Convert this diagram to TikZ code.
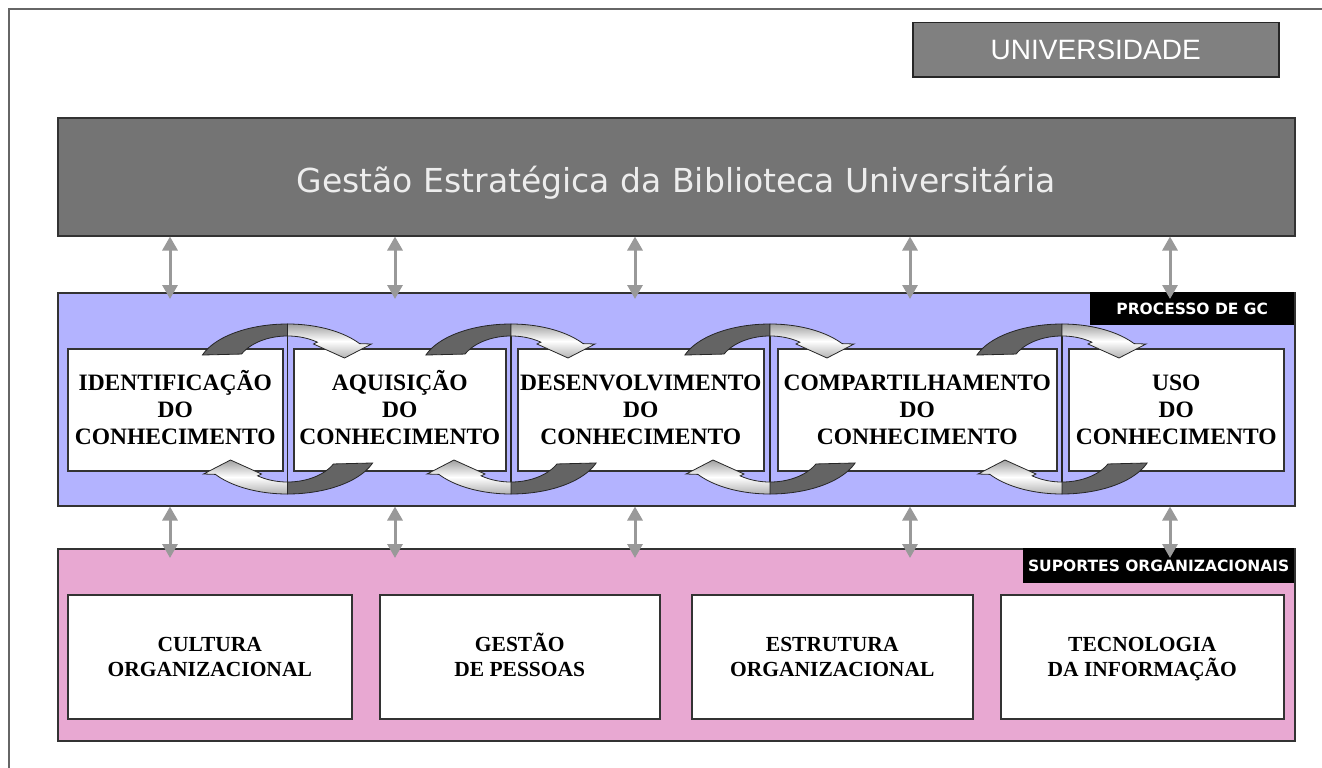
\documentclass[tikz,border=0pt]{standalone}
\usepackage{fontspec}
\setmainfont{Liberation Serif}
\newfontfamily\verdfont{DejaVu Sans}
\newfontfamily\arialfont{Liberation Sans}
\usetikzlibrary{arrows.meta}
\definecolor{gestfill}{RGB}{116,116,116}
\definecolor{unifill}{RGB}{128,128,128}
\definecolor{lav}{RGB}{179,179,255}
\definecolor{pinkfill}{RGB}{232,168,210}
\definecolor{arrgray}{RGB}{153,153,153}
\definecolor{arcdark}{RGB}{100,100,100}
\newcommand\myTop{\vphantom{ÃÇ}}
\begin{document}
\begin{tikzpicture}[x=1pt,y=-1pt,
  panel/.style={draw=black!80, line width=1.5pt, inner sep=0pt, anchor=north west},
  procbox/.style={panel, fill=white, minimum height=122pt, align=center,
    font=\fontsize{23.5}{27}\selectfont\bfseries},
  supbox/.style={panel, fill=white, minimum height=124pt, align=center,
    font=\fontsize{21.5}{25}\selectfont\bfseries},
  tagbox/.style={anchor=north west, fill=black, inner sep=0pt, text=white,
    font=\verdfont\bfseries\fontsize{15.5}{17}\selectfont},
  dblarrow/.style={draw=arrgray, line width=3pt,
    {Triangle[width=15pt,length=14pt]}-{Triangle[width=15pt,length=14pt]}},
  darkarc/.style={fill=arcdark, draw=black!85, line width=0.8pt},
  lightarc/.style={top color=gray!75, bottom color=gray!60, middle color=white,
    draw=black!85, line width=0.8pt},
  gapline/.style={draw=black!85, line width=1.2pt}
]
\useasboundingbox (0,0) rectangle (1322,768);
% frame
\draw[line width=2.5pt, black!60] (9,768) -- (9,9) -- (1322,9);

% top boxes
\node[panel, fill=unifill, draw=black!85, minimum width=366pt, minimum height=54pt,
  text=white, font=\arialfont\fontsize{28}{30}\selectfont] (univ) at (912,22) {UNIVERSIDADE};
\node[panel, fill=gestfill, minimum width=1237pt, minimum height=118pt,
  text=white!93!black, font=\verdfont\fontsize{33}{36}\selectfont] (gest) at (57,117)
  {\raisebox{-16pt}[0pt][0pt]{Gestão Estratégica da Biblioteca Universitária}};

% process panel
\node[panel, fill=lav, minimum width=1237pt, minimum height=213pt] (proc) at (57,292) {};
\node[tagbox, minimum width=204pt, minimum height=33pt] (proclab) at (1090,292) {PROCESSO DE GC};

% support panel
\node[panel, fill=pinkfill, minimum width=1237pt, minimum height=192pt] (sup) at (57,548) {};
\node[tagbox, minimum width=271pt, minimum height=35pt] (suplab) at (1023,548) {SUPORTES ORGANIZACIONAIS};

% gap lines
\foreach \cx in {287.5,511,770,1062} {
  \draw[gapline] (\cx,324) -- (\cx,494);
}

% process boxes
\node[procbox, minimum width=215pt] (p1) at (67,348) {\myTop IDENTIFICAÇÃO\\DO\\CONHECIMENTO\myTop};
\node[procbox, minimum width=212pt] (p2) at (293,348) {\myTop AQUISIÇÃO\\DO\\CONHECIMENTO\myTop};
\node[procbox, minimum width=246pt] (p3) at (517,348) {\myTop DESENVOLVIMENTO\\DO\\CONHECIMENTO\myTop};
\node[procbox, minimum width=279pt] (p4) at (777,348) {\myTop COMPARTILHAMENTO\\DO\\CONHECIMENTO\myTop};
\node[procbox, minimum width=215pt] (p5) at (1068,348) {\myTop USO\\DO\\CONHECIMENTO\myTop};

% support boxes
\node[supbox, minimum width=284pt] (s1) at (67,594) {\myTop CULTURA\\ORGANIZACIONAL\myTop};
\node[supbox, minimum width=280pt] (s2) at (379,594) {\myTop GESTÃO\\DE PESSOAS\myTop};
\node[supbox, minimum width=281pt] (s3) at (691,594) {\myTop ESTRUTURA\\ORGANIZACIONAL\myTop};
\node[supbox, minimum width=283pt] (s4) at (1000,594) {\myTop TECNOLOGIA\\DA INFORMAÇÃO\myTop};

% curved arrows
\foreach \cx in {287.5,511,770,1062} {
  \foreach \cy/\rot in {370/0,448/180} {
    \begin{scope}[shift={(\cx,\cy)}, rotate=\rot]
      \filldraw[darkarc] plot[domain=199:270, samples=30, smooth] ({90*cos(\x)},{46*sin(\x)})
        -- plot[domain=270:208, samples=30, smooth] ({52*cos(\x)},{34*sin(\x)}) -- cycle;
      \shadedraw[lightarc] plot[domain=270:325, samples=30, smooth] ({88*cos(\x)},{46*sin(\x)})
        -- (84,-26) -- (57,-12) -- (26,-26)
        -- plot[domain=305:270, samples=30, smooth] ({52*cos(\x)},{34*sin(\x)}) -- cycle;
    \end{scope}
  }
}

% vertical double arrows
\foreach \i/\xx in {1/170,2/395,3/635,4/910,5/1170} {
  \coordinate (c\i) at (\xx,0);
  \draw[dblarrow, shorten >=-7pt] (c\i |- gest.south) -- (c\i |- proc.north);
  \draw[dblarrow, shorten >=-10pt] (c\i |- proc.south) -- (c\i |- sup.north);
}
\end{tikzpicture}
\end{document}
